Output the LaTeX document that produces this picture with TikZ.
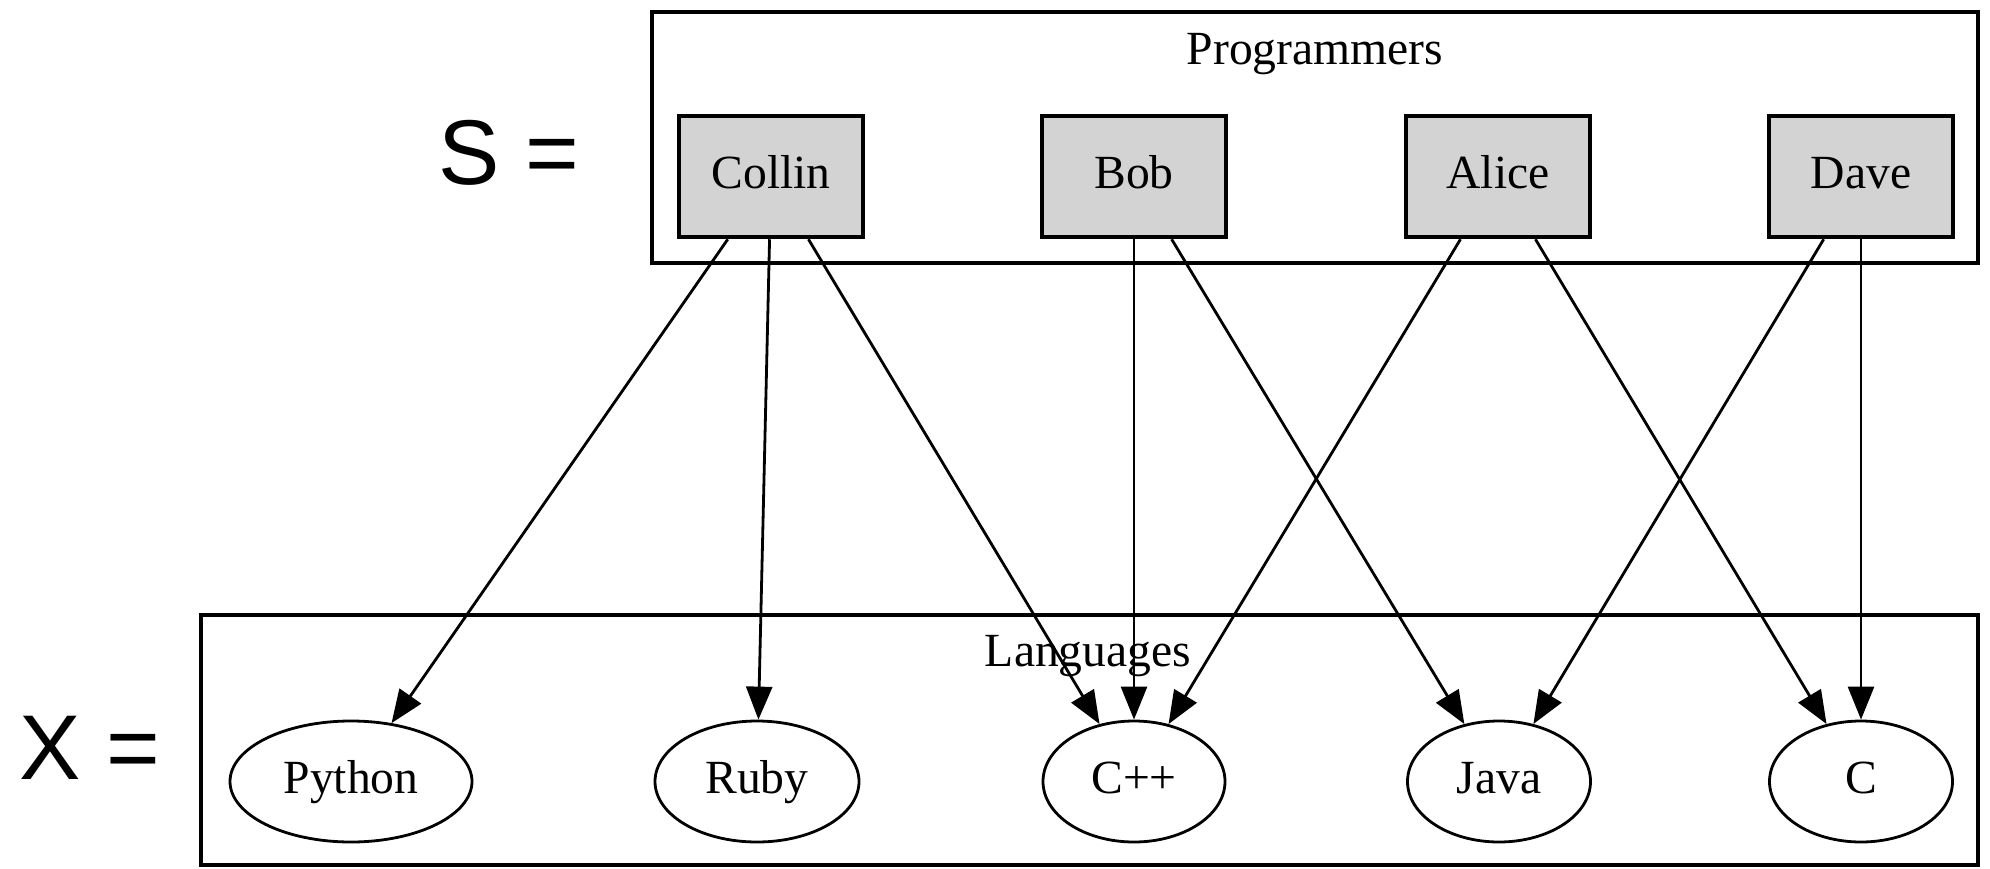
\documentclass[tikz,border=0pt]{standalone}
\usepackage{fontspec}
\setmainfont{Liberation Serif}
\newfontfamily\arialfont{Liberation Sans}
\usetikzlibrary{shapes.geometric,arrows.meta}
\definecolor{gvgray}{RGB}{211,211,211}
\tikzset{
  gvfont/.style={font=\fontsize{47.6pt}{57pt}\selectfont, text height=31.5pt, text depth=8pt},
  cluster/.style={draw, line width=4pt, rectangle, inner sep=0pt},
  clusterlabel/.style={font=\fontsize{47.6pt}{57pt}\selectfont, anchor=base, inner sep=0pt},
  person/.style={draw, line width=4.5pt, fill=gvgray, rectangle, minimum width=184pt, minimum height=121pt, inner sep=0pt, gvfont},
  lang/.style={draw, line width=2.8pt, ellipse, minimum height=121pt, inner sep=0pt, gvfont},
  edge/.style={line width=2.8pt, -{Triangle[length=33pt,width=26pt]}},
  biglabel/.style={font=\arialfont\fontsize{92pt}{100pt}\selectfont, inner sep=0pt},
}
\begin{document}
\begin{tikzpicture}[x=1pt,y=-1pt]
\useasboundingbox (0,0) rectangle (1990,868);
% clusters
\node[cluster, minimum width=1326pt, minimum height=251pt] (programmers) at (1315,137.5) {};
\node[cluster, minimum width=1777pt, minimum height=250pt] (languages) at (1089.5,740) {};
\node[clusterlabel] (proglabel) at (1315,64) {Programmers};
\node[clusterlabel] (langlabel) at (1088,666) {Languages};
% set labels
\node[biglabel] (slabel) at (509,153) {S =};
\node[biglabel] (xlabel) at (90,748) {X =};
% programmers
\node[person] (collin) at (771,176.5) {Collin};
\node[person] (bob) at (1134,176.5) {Bob};
\node[person] (alice) at (1498,176.5) {Alice};
\node[person] (dave) at (1861,176.5) {Dave};
% languages
\node[lang, minimum width=242pt] (python) at (351,781.5) {Python};
\node[lang, minimum width=204pt] (ruby) at (757,781.5) {Ruby};
\node[lang, minimum width=182pt] (cpp) at (1134,781.5) {C++};
\node[lang, minimum width=183pt] (java) at (1499,781.5) {Java};
\node[lang, minimum width=183pt] (c) at (1861,781.5) {C};
% edges
\draw[edge] (collin) -- (python);
\draw[edge] (collin) -- (ruby);
\draw[edge] (collin) -- (cpp);
\draw[edge] (bob) -- (cpp);
\draw[edge] (bob) -- (java);
\draw[edge] (alice) -- (cpp);
\draw[edge] (alice) -- (c);
\draw[edge] (dave) -- (java);
\draw[edge] (dave) -- (c);
\end{tikzpicture}
\end{document}
